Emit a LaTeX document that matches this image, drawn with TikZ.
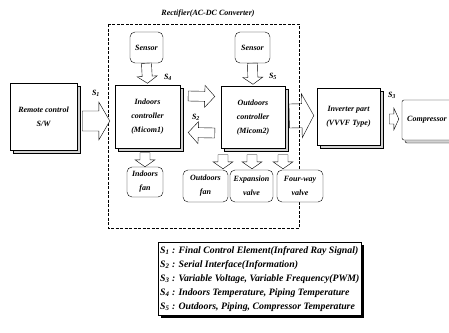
\documentclass[tikz,border=0pt]{standalone}
\usepackage{fontspec}
\setmainfont{Liberation Serif}
\usetikzlibrary{calc,shadows,positioning}

\tikzset{
  txt/.style={font=\fontsize{8}{14}\selectfont\bfseries\itshape, align=center},
  unit3d/.style={draw, fill=white, txt, inner sep=1pt,
    copy shadow={shadow xshift=3pt, shadow yshift=-3pt, fill=gray!35, draw}},
  roundbox/.style={draw, fill=white, rounded corners=5pt, txt, inner sep=1pt},
  blockarrow/.style={draw, fill=white, line join=miter},
  siglabel/.style={txt, inner sep=0pt},
  legendbox/.style={draw, fill=white, align=left, inner xsep=2pt, inner ysep=4pt,
    font=\fontsize{9.8}{14}\selectfont\bfseries\itshape,
    drop shadow={shadow xshift=3pt, shadow yshift=-3pt, fill=black, opacity=1}},
}

% block arrow: [options]{tail}{tip}{half shaft}{half head}{head length}
\newcommand{\blkarrow}[6][]{%
  \path let \p1=(#2), \p2=(#3) in
    \pgfextra{\pgfmathsetmacro\blkang{atan2(\y2-\y1,\x2-\x1)}%
              \pgfmathsetmacro\blklen{veclen(\x2-\x1,\y2-\y1)}%
              \global\let\blkang\blkang \global\let\blklen\blklen};
  \draw[blockarrow, #1, shift={(#2)}, rotate=\blkang]
    (0pt,#4) -- (\blklen pt-#6,#4) -- (\blklen pt-#6,#5) -- (\blklen pt,0pt)
    -- (\blklen pt-#6,-#5) -- (\blklen pt-#6,-#4) -- (0pt,-#4) -- cycle;
}

\begin{document}
\begin{tikzpicture}[x=1pt,y=-1pt]
\useasboundingbox (0,0) rectangle (449,332);

% rectifier frame
\draw[dash pattern=on 3pt off 1.5pt] (108,24) rectangle (299,228);
\node[txt] (rectifier) at (208,14) {Rectifier(AC-DC Converter)};

% units
\node[unit3d, minimum width=67, minimum height=67] (remote) at (43.5,117) {Remote control\\S/W};
\node[unit3d, minimum width=65, minimum height=63] (indoor) at (147.5,117) {Indoors\\controller\\(Micom1)};
\node[unit3d, minimum width=64, minimum height=62] (outdoor) at (253,117.5) {Outdoors\\controller\\(Micom2)};
\node[unit3d, minimum width=63, minimum height=57] (inverter) at (348.5,117) {Inverter part\\(VVVF Type)};
\node[unit3d, rounded corners=2pt, minimum width=50, minimum height=40] (compressor) at (427,120) {Compressor};

% sensors
\node[roundbox, minimum width=33, minimum height=31] (sensorin) at (146.5,47.5) {Sensor};
\node[roundbox, minimum width=35, minimum height=31] (sensorout) at (252.5,47.5) {Sensor};

% actuators
\node[roundbox, minimum width=36, minimum height=30] (infan) at (145,182) {Indoors\\fan};
\node[roundbox, minimum width=45, minimum height=32] (outfan) at (205.5,186) {Outdoors\\fan};
\node[roundbox, minimum width=43, minimum height=32] (expvalve) at (251.5,186) {Expansion\\valve};
\node[roundbox, minimum width=46, minimum height=32] (fourway) at (300,186) {Four-way\\valve};

% signal arrows
\blkarrow{[xshift=5pt,yshift=-4pt]remote.east}{[xshift=-5pt,yshift=-4pt]indoor.west}{10pt}{19pt}{11pt}
\blkarrow{sensorin.south}{[yshift=2pt]indoor.north}{5pt}{10pt}{7pt}
\blkarrow{sensorout.south}{[yshift=2pt]outdoor.north}{5pt}{10pt}{7pt}
\blkarrow{[xshift=8pt,yshift=21pt]indoor.east}{[xshift=-6pt,yshift=21pt]outdoor.west}{5pt}{11pt}{10pt}
\blkarrow{[xshift=-6pt,yshift=-15.5pt]outdoor.west}{[xshift=8pt,yshift=-15.5pt]indoor.east}{5pt}{11pt}{10pt}
\blkarrow[fill=none]{[xshift=4pt,yshift=1.5pt]outdoor.east}{[xshift=-3pt,yshift=1.5pt]inverter.west}{12pt}{22pt}{12pt}
\blkarrow{[xshift=9pt,yshift=-2pt]inverter.east}{[xshift=-3pt,yshift=1pt]compressor.west}{5pt}{11pt}{5pt}
\blkarrow{[xshift=-2.5pt,yshift=-4pt]indoor.south}{infan.north}{5pt}{10pt}{7pt}
\blkarrow{[xshift=-30pt,yshift=-6pt]outdoor.south}{[xshift=17.5pt,yshift=1pt]outfan.north}{5pt}{10pt}{7pt}
\blkarrow{[xshift=-1pt,yshift=-6pt]outdoor.south}{[xshift=0.5pt,yshift=1pt]expvalve.north}{5pt}{10pt}{7pt}
\blkarrow{[xshift=30pt,yshift=-6pt]outdoor.south}{[xshift=-17pt,yshift=1pt]fourway.north}{5pt}{10pt}{7pt}

% signal names
\node[siglabel] (s1) at (96,93) {S\textsubscript{1}};
\node[siglabel] (s4) at (168,77) {S\textsubscript{4}};
\node[siglabel] (s5) at (273,76) {S\textsubscript{5}};
\node[siglabel] (s2) at (196,117) {S\textsubscript{2}};
\node[siglabel] (s3) at (392,95) {S\textsubscript{3}};

% legend
\node[legendbox, anchor=north west] (legend) at (158,242) {%
S\textsubscript{1} : Final Control Element(Infrared Ray Signal)\\
S\textsubscript{2} : Serial Interface(Information)\\
S\textsubscript{3} : Variable Voltage, Variable Frequency(PWM)\\
S\textsubscript{4} : Indoors Temperature, Piping Temperature\\
S\textsubscript{5} : Outdoors, Piping, Compressor Temperature};
\end{tikzpicture}
\end{document}
